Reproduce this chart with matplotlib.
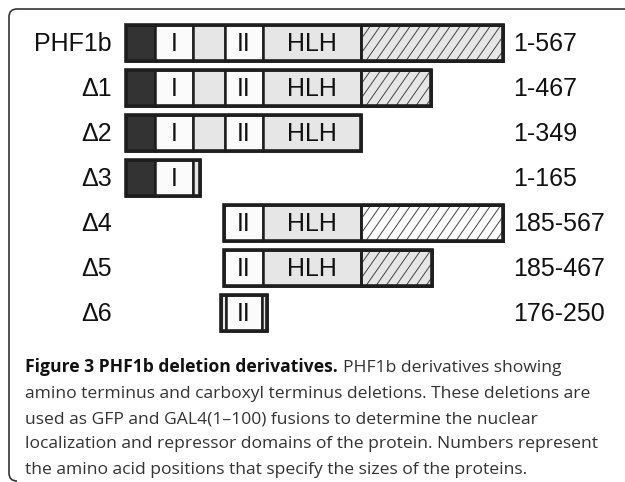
import matplotlib
matplotlib.use("Agg")
import matplotlib.pyplot as plt
from matplotlib.patches import Rectangle, PathPatch
from matplotlib.path import Path
import numpy as np

# ---------------- data ----------------
constructs = ["PHF1b", "\u03941", "\u03942", "\u03943", "\u03944", "\u03945", "\u03946"]
aa_ranges = ["1-567", "1-467", "1-349", "1-165", "185-567", "185-467", "176-250"]

# schematic domain segments per construct: (domain, start, end) in diagram units
segments = [
    [("N", 126, 155), ("I", 155, 193), ("L", 193, 225), ("II", 225, 263), ("HLH", 263, 361), ("C", 361, 503)],
    [("N", 126, 155), ("I", 155, 193), ("L", 193, 225), ("II", 225, 263), ("HLH", 263, 361), ("C", 361, 431)],
    [("N", 126, 155), ("I", 155, 193), ("L", 193, 225), ("II", 225, 263), ("HLH", 263, 361)],
    [("N", 126, 155), ("I", 155, 193), ("L", 193, 200)],
    [("II", 224, 263), ("HLH", 263, 361), ("Cw", 361, 503)],
    [("II", 224, 263), ("HLH", 263, 361), ("C", 361, 432)],
    [("L", 221, 226), ("II", 226, 262), ("L", 262, 267)],
]
domain_text = {"I": "I", "II": "II", "HLH": "HLH"}

caption_bold = "Figure 3 PHF1b deletion derivatives."
caption_lines = [
    "PHF1b derivatives showing",
    "amino terminus and carboxyl terminus deletions. These deletions are",
    "used as GFP and GAL4(1\u2013100) fusions to determine the nuclear",
    "localization and repressor domains of the protein. Numbers represent",
    "the amino acid positions that specify the sizes of the proteins.",
]

# ---------------- style ----------------
W, H = 625, 482
fig = plt.figure(figsize=(W / 100, H / 100), dpi=100)
ax = fig.add_axes([0, 0, 1, 1])
ax.set_xlim(0, W)
ax.set_ylim(H, 0)
ax.axis("off")

face = {"N": "#333333", "I": "#fbfbfb", "II": "#fbfbfb", "L": "#e6e6e6",
        "HLH": "#e6e6e6", "C": "#e6e6e6", "Cw": "#ffffff"}
edge = "#1e1e1e"

row0, row_step, bar_h = 43, 45, 36
label_font = "Liberation Sans"

for r, (name, rng, segs) in enumerate(zip(constructs, aa_ranges, segments)):
    yc = row0 + r * row_step
    y0 = yc - bar_h / 2
    for dom, s, e in segs:
        rect = Rectangle((s, y0), e - s, bar_h, facecolor=face[dom], edgecolor=edge,
                         linewidth=1.8, zorder=2)
        ax.add_patch(rect)
        if dom in ("C", "Cw"):
            clip = Rectangle((s, y0), e - s, bar_h, transform=ax.transData)
            step = 10.0
            slope_dx = bar_h * 0.7
            xs = np.arange(s - slope_dx, e + step, step)
            for x in xs:
                ln, = ax.plot([x, x + slope_dx], [y0 + bar_h, y0], color="#444444",
                              linewidth=0.7, zorder=3)
                ln.set_clip_path(clip)
            ax.add_patch(Rectangle((s, y0), e - s, bar_h, facecolor="none",
                                   edgecolor=edge, linewidth=1.8, zorder=4))
        if dom in domain_text:
            ax.text((s + e) / 2, yc + 1, domain_text[dom], ha="center", va="center",
                    fontsize=18, family=label_font, color="#111111", zorder=5)
    # outline of whole construct
    xs0 = segs[0][1]
    xs1 = segs[-1][2]
    ax.add_patch(Rectangle((xs0, y0), xs1 - xs0, bar_h, facecolor="none",
                           edgecolor=edge, linewidth=2.6, zorder=6))
    ax.text(112, yc + 1, name, ha="right", va="center", fontsize=18,
            family=label_font, color="#111111")
    ax.text(513, yc + 1, rng, ha="left", va="center", fontsize=18,
            family=label_font, color="#111111")

# frame (top + left with rounded corners)
verts = [(W + 5, 9), (17, 9), (9, 9), (9, 17), (9, 473), (9, 481), (17, 481)]
codes = [Path.MOVETO, Path.LINETO, Path.CURVE3, Path.CURVE3, Path.LINETO, Path.CURVE3, Path.CURVE3]
ax.add_patch(PathPatch(Path(verts, codes), facecolor="none", edgecolor="#333333",
                       linewidth=1.2, zorder=1))

# caption
cap_font = "Open Sans"
cap_size = 12.6
base0, lstep = 372, 25.5
tb = ax.text(25, base0, caption_bold, ha="left", va="baseline", fontsize=cap_size,
             family=cap_font, fontweight="bold", color="#111111")
fig.canvas.draw()
bb = tb.get_window_extent()
x_after = ax.transData.inverted().transform((bb.x1, bb.y0))[0] + 5
ax.text(x_after, base0, caption_lines[0], ha="left", va="baseline", fontsize=cap_size,
        family=cap_font, color="#333333")
for i, line in enumerate(caption_lines[1:], start=1):
    ax.text(25, base0 + i * lstep, line, ha="left", va="baseline", fontsize=cap_size,
            family=cap_font, color="#333333")

fig.savefig("out.png", dpi=100)
